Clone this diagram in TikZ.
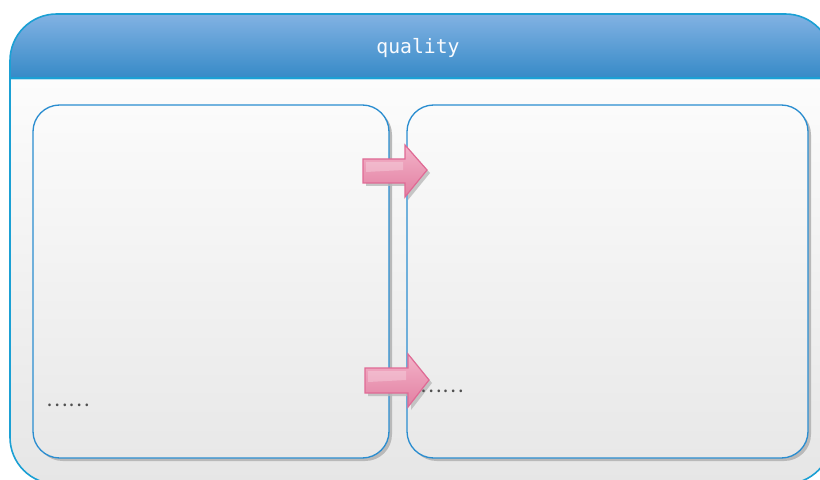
\documentclass[tikz,border=0pt]{standalone}
\usepackage{fontspec}
\newfontfamily\titlefont{DejaVu Sans Mono}
\newfontfamily\cjkfont[RawFeature=+fwid]{Noto Sans CJK SC}
\usetikzlibrary{positioning}
\definecolor{framecol}{RGB}{27,160,212}
\definecolor{headtop}{RGB}{130,178,227}
\definecolor{headbot}{RGB}{54,138,199}
\definecolor{bodytop}{RGB}{252,252,252}
\definecolor{bodybot}{RGB}{230,230,230}
\definecolor{boxcol}{RGB}{42,141,208}
\definecolor{boxtop}{RGB}{251,251,251}
\definecolor{boxbot}{RGB}{232,232,232}
\definecolor{shadecol}{RGB}{185,185,185}
\definecolor{arrowtop}{RGB}{243,178,200}
\definecolor{arrowbot}{RGB}{226,128,162}
\definecolor{arrowline}{RGB}{224,106,149}
\definecolor{dotcol}{RGB}{80,80,80}
\tikzset{
  panel/.style={draw=boxcol,line width=1,top color=boxtop,bottom color=boxbot,rounded corners=20},
  panelshadow/.style={fill=shadecol,rounded corners=20},
  pinkarrow/.style={draw=arrowline,line width=0.9,top color=arrowtop,bottom color=arrowbot},
  arrowshadow/.style={fill=shadecol,opacity=0.8},
  dots/.style={text=dotcol,font=\cjkfont\fontsize{15.3}{15.3}\selectfont,inner sep=0pt}
}

\begin{document}
\begin{tikzpicture}[x=0.75pt,y=0.75pt]
\useasboundingbox (0,0) rectangle (820,479);
\clip (0,0) rectangle (820,479);

%Shape: Rounded Rectangle [outer frame]
\begin{scope}
\clip[rounded corners=35] (10,-5) rectangle (832,465);
\fill[top color=bodytop,bottom color=bodybot] (10,-5) rectangle (832,401);
\fill[top color=headtop,bottom color=headbot] (10,401) rectangle (832,465);
\end{scope}
\draw[white!70!framecol,line width=1] (10,399.5) -- (832,399.5);
\draw[framecol,line width=1.6] (10,401) -- (832,401);
\draw[framecol,line width=1.2,rounded corners=35] (10,-5) rectangle (832,465);

%Shape: Rounded Rectangle [left panel]
\fill[panelshadow] (36,18) rectangle (392,371);
\draw[panel] (33,21) rectangle (389,374);
%Shape: Rounded Rectangle [right panel]
\fill[panelshadow] (410,18) rectangle (811,371);
\draw[panel] (407,21) rectangle (808,374);

% Text Node
\node[text=white!95!headtop,font=\titlefont\fontsize{14.8}{14.8}\selectfont] (title) at (418,431) {quality};

%Right Arrow [upper]
\fill[arrowshadow] (366,317) -- (408,317) -- (408,331) -- (430,306) -- (408,279) -- (408,293) -- (366,293) -- cycle;
\draw[pinkarrow] (363,320) -- (405,320) -- (405,334) -- (427,309) -- (405,282) -- (405,296) -- (363,296) -- cycle;
\fill[white,opacity=0.25] (366,317) -- (403,317) -- (403,309) -- (366,307) -- cycle;
%Right Arrow [lower]
\fill[arrowshadow] (368,108) -- (411,108) -- (411,122) -- (432,96) -- (411,69) -- (411,83) -- (368,83) -- cycle;
\draw[pinkarrow] (365,111) -- (408,111) -- (408,125) -- (429,99) -- (408,72) -- (408,86) -- (365,86) -- cycle;
\fill[white,opacity=0.25] (368,108) -- (406,108) -- (406,99) -- (368,97) -- cycle;

% Text Node
\node[dots] (leftdots) at (68,74) {……};
% Text Node
\node[dots] (rightdots) at (442,88) {……};

\end{tikzpicture}
\end{document}
